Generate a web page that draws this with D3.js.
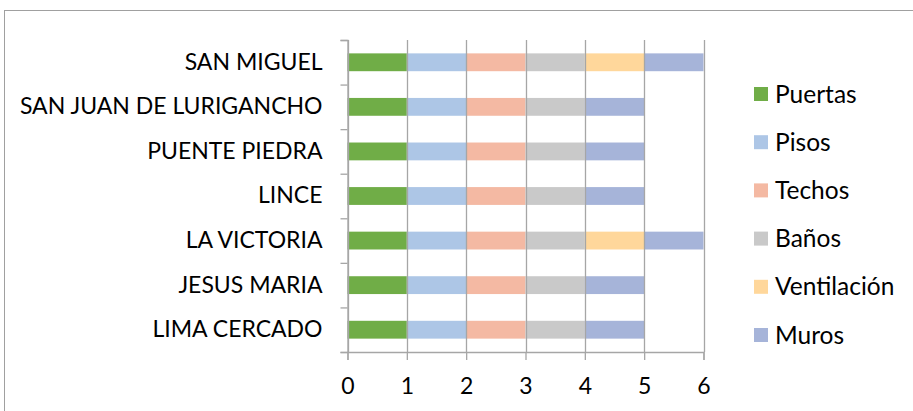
<!DOCTYPE html>
<html>
<head>
<meta charset="utf-8">
<script src="https://cdn.jsdelivr.net/npm/d3@7"></script>
<style>
  body { margin: 0; background: #fff; }
  svg text { font-family: Lato, "Open Sans", sans-serif; fill: #000; }
</style>
</head>
<body>
<svg id="chart"></svg>
<script>
// categories top to bottom as shown
const districts = ["SAN MIGUEL", "SAN JUAN DE LURIGANCHO", "PUENTE PIEDRA", "LINCE", "LA VICTORIA", "JESUS MARIA", "LIMA CERCADO"];
const seriesNames = ["Puertas", "Pisos", "Techos", "Baños", "Ventilación", "Muros"];
const seriesColors = ["#70ad47", "#adc6e6", "#f4b9a3", "#c9c9c9", "#ffd79b", "#a6b4d9"];

// values per series, same order as districts
const puertas     = [1, 1, 1, 1, 1, 1, 1];
const pisos       = [1, 1, 1, 1, 1, 1, 1];
const techos      = [1, 1, 1, 1, 1, 1, 1];
const banos       = [1, 1, 1, 1, 1, 1, 1];
const ventilacion = [1, 0, 0, 0, 1, 0, 0];
const muros       = [1, 1, 1, 1, 1, 1, 1];

const xTicks = [0, 1, 2, 3, 4, 5, 6];

const width = 913, height = 411;
const plot = { left: 347.5, right: 703.5, top: 40, bottom: 352 };

const svg = d3.select("#chart").attr("width", width).attr("height", height);

// chart border
svg.append("rect")
    .attr("x", 4.5).attr("y", 10.5)
    .attr("width", 1000).attr("height", 1000)
    .attr("fill", "none").attr("stroke", "#a0a0a0");

const rows = districts.map((d, i) => ({
    district: d,
    "Puertas": puertas[i],
    "Pisos": pisos[i],
    "Techos": techos[i],
    "Baños": banos[i],
    "Ventilación": ventilacion[i],
    "Muros": muros[i]
}));

const stacked = d3.stack().keys(seriesNames)(rows);

const x = d3.scaleLinear().domain([0, 6]).range([plot.left, plot.right]);
const y = d3.scaleBand().domain(districts).range([plot.top, plot.bottom])
            .paddingInner(0.6).paddingOuter(0.3);
const color = d3.scaleOrdinal().domain(seriesNames).range(seriesColors);

// bars
svg.append("g").selectAll("g")
    .data(stacked)
    .enter().append("g")
    .attr("fill", s => color(s.key))
    .selectAll("rect")
    .data(s => s.filter(p => p[1] > p[0]))
    .enter().append("rect")
    .attr("x", p => x(p[0]))
    .attr("width", p => x(p[1]) - x(p[0]))
    .attr("y", p => y(p.data.district))
    .attr("height", y.bandwidth());

// vertical gridlines
svg.append("g").selectAll("line")
    .data(xTicks)
    .enter().append("line")
    .attr("x1", d => Math.round(x(d)) + 0.5).attr("x2", d => Math.round(x(d)) + 0.5)
    .attr("y1", plot.top).attr("y2", plot.bottom)
    .attr("stroke", "#a6a6a6").attr("stroke-width", 1.3);

// x axis
const xAxis = d3.axisBottom(x).tickValues(xTicks).tickSize(8).tickPadding(18).tickFormat(d3.format("d"));
const gx = svg.append("g").attr("transform", `translate(0, ${plot.bottom})`).call(xAxis);
gx.select(".domain").attr("stroke", "#a6a6a6").attr("stroke-width", 1.3);
gx.selectAll(".tick line").attr("stroke", "#a6a6a6").attr("stroke-width", 1.3);
gx.selectAll("text").style("font-size", "23px");

// y axis: tick marks on category boundaries
const yb = d3.scaleLinear().domain([0, districts.length]).range([plot.top, plot.bottom]);
const gyTicks = svg.append("g").attr("transform", `translate(${plot.left}, 0)`)
    .call(d3.axisLeft(yb).ticks(districts.length).tickSize(7).tickFormat(""));
gyTicks.select(".domain").attr("stroke", "#a6a6a6").attr("stroke-width", 1.3);
gyTicks.selectAll(".tick line").attr("stroke", "#a6a6a6").attr("stroke-width", 1.3);

// y labels
const gy = svg.append("g").attr("transform", `translate(${plot.left}, 0)`)
    .call(d3.axisLeft(y).tickSize(0).tickPadding(25));
gy.select(".domain").remove();
gy.selectAll("text").style("font-size", "23px");

// legend
const legend = svg.append("g").selectAll("g")
    .data(seriesNames)
    .enter().append("g")
    .attr("transform", (d, i) => `translate(754, ${94 + i * 48.2})`);

legend.append("rect")
    .attr("x", 0).attr("y", -7)
    .attr("width", 14).attr("height", 14)
    .attr("fill", d => color(d));

legend.append("text")
    .attr("x", 21).attr("y", 8.5)
    .style("font-size", "24.5px")
    .text(d => d);
</script>
</body>
</html>
